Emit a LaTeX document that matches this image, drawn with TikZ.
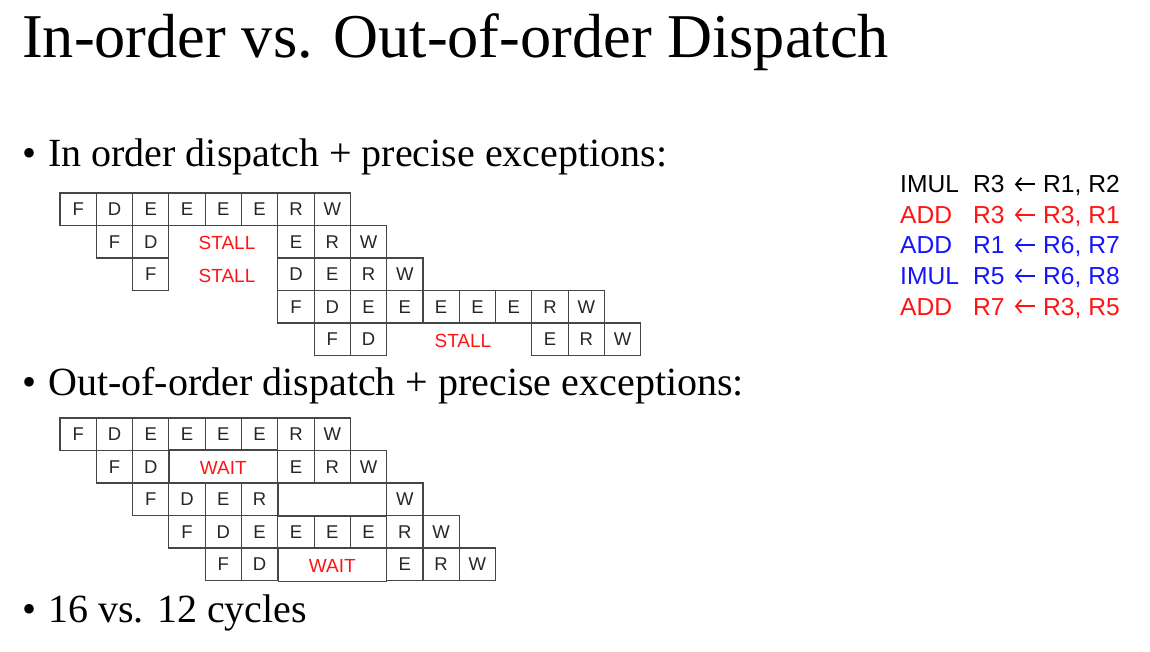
\documentclass[tikz,border=0pt]{standalone}
\usepackage{fontspec}
\usetikzlibrary{arrows.meta}
\setmainfont{Liberation Serif}
\newfontfamily\cellfont{Liberation Sans}
\definecolor{cellline}{RGB}{70,70,70}
\definecolor{txtred}{RGB}{255,20,20}
\definecolor{txtblue}{RGB}{20,20,255}
\begin{document}
\begin{tikzpicture}[x=1pt,y=-1pt,
  cell/.style={draw=cellline, line width=1.1pt, minimum width=36.3pt, minimum height=32.5pt,
    inner sep=0pt, font=\cellfont\fontsize{18.5}{18.5}\selectfont, text=black!85},
  note/.style={font=\cellfont\fontsize{19}{19}\selectfont, text=txtred, inner sep=0pt},
  lbl/.style={anchor=base west, inner sep=0pt},
  big/.style={lbl, font=\fontsize{40}{48}\selectfont},
  instr/.style={lbl, font=\cellfont\fontsize{24.6}{24.6}\selectfont},
  larrow/.style={line width=1.7pt, -{Straight Barb[length=5.5pt,width=13pt]}}
]
\useasboundingbox (0,0) rectangle (1150,652);

% title
\node[lbl, font=\fontsize{62.3}{70}\selectfont] (title) at (22,58) {In-order vs. Out-of-order Dispatch};

% bullets
\node[big] (bul1) at (22,167) {\textbullet};
\node[big] (txt1) at (48,167) {In order dispatch + precise exceptions:};
\node[big] (bul2) at (22,395) {\textbullet};
\node[big] (txt2) at (48,395) {Out-of-order dispatch + precise exceptions:};
\node[big] (bul3) at (22,622) {\textbullet};
\node[big] (txt3) at (48,622) {16 vs. 12 cycles};

% instructions
\foreach \n/\yy/\col/\op/\dst/\src in {1/193/black/IMUL/R3/{R1, R2},
    2/223.5/txtred/ADD/R3/{R3, R1},
    3/254/txtblue/ADD/R1/{R6, R7},
    4/284.5/txtblue/IMUL/R5/{R6, R8},
    5/315/txtred/ADD/R7/{R3, R5}} {
  \node[instr, text=\col] (op\n) at (900,\yy) {\op};
  \node[instr, text=\col] (dst\n) at (973,\yy) {\dst};
  \node[instr, text=\col] (src\n) at (1043,\yy) {\src};
  \draw[larrow, draw=\col] ([xshift=-8pt,yshift=8.7pt]src\n.base west) -- ([xshift=10pt,yshift=8.7pt]dst\n.base east);
}

% in-order grid
\foreach \c/\l [count=\i] in {0/F,1/D,2/E,3/E,4/E,5/E,6/R,7/W}
  \node[cell] (p1-\i) at ({60+(\c+0.5)*36.3},209.25) {\l};
\foreach \c/\l [count=\i] in {1/F,2/D,6/E,7/R,8/W}
  \node[cell] (p2-\i) at ({60+(\c+0.5)*36.3},241.75) {\l};
\foreach \c/\l [count=\i] in {2/F,6/D,7/E,8/R,9/W}
  \node[cell] (p3-\i) at ({60+(\c+0.5)*36.3},274.25) {\l};
\foreach \c/\l [count=\i] in {6/F,7/D,8/E,9/E,10/E,11/E,12/E,13/R,14/W}
  \node[cell] (p4-\i) at ({60+(\c+0.5)*36.3},306.75) {\l};
\foreach \c/\l [count=\i] in {7/F,8/D,13/E,14/R,15/W}
  \node[cell] (p5-\i) at ({60+(\c+0.5)*36.3},339.25) {\l};
\node[note] (st1) at ({60+4.6*36.3},243) {STALL};
\node[note] (st2) at ({60+4.6*36.3},275.5) {STALL};
\node[note] (st3) at ({60+11.1*36.3},340.5) {STALL};

% out-of-order grid
\foreach \c/\l [count=\i] in {0/F,1/D,2/E,3/E,4/E,5/E,6/R,7/W}
  \node[cell] (q1-\i) at ({60+(\c+0.5)*36.3},434.25) {\l};
\foreach \c/\l [count=\i] in {1/F,2/D,6/E,7/R,8/W}
  \node[cell] (q2-\i) at ({60+(\c+0.5)*36.3},466.75) {\l};
\foreach \c/\l [count=\i] in {2/F,3/D,4/E,5/R,9/W}
  \node[cell] (q3-\i) at ({60+(\c+0.5)*36.3},499.25) {\l};
\foreach \c/\l [count=\i] in {3/F,4/D,5/E,6/E,7/E,8/E,9/R,10/W}
  \node[cell] (q4-\i) at ({60+(\c+0.5)*36.3},531.75) {\l};
\foreach \c/\l [count=\i] in {4/F,5/D,9/E,10/R,11/W}
  \node[cell] (q5-\i) at ({60+(\c+0.5)*36.3},564.25) {\l};
% boxes around the waiting/empty spans
\draw[cellline, line width=1.1pt] (q2-2.north east) rectangle (q2-3.south west);
\draw[cellline, line width=1.1pt] (q3-4.north east) rectangle (q3-5.south west);
\draw[cellline, line width=1.1pt] (q5-2.north east) rectangle (q5-3.south west);
\node[note] (w1) at ({60+4.5*36.3},468) {WAIT};
\node[note] (w2) at ({60+7.5*36.3},565.5) {WAIT};
\end{tikzpicture}
\end{document}
